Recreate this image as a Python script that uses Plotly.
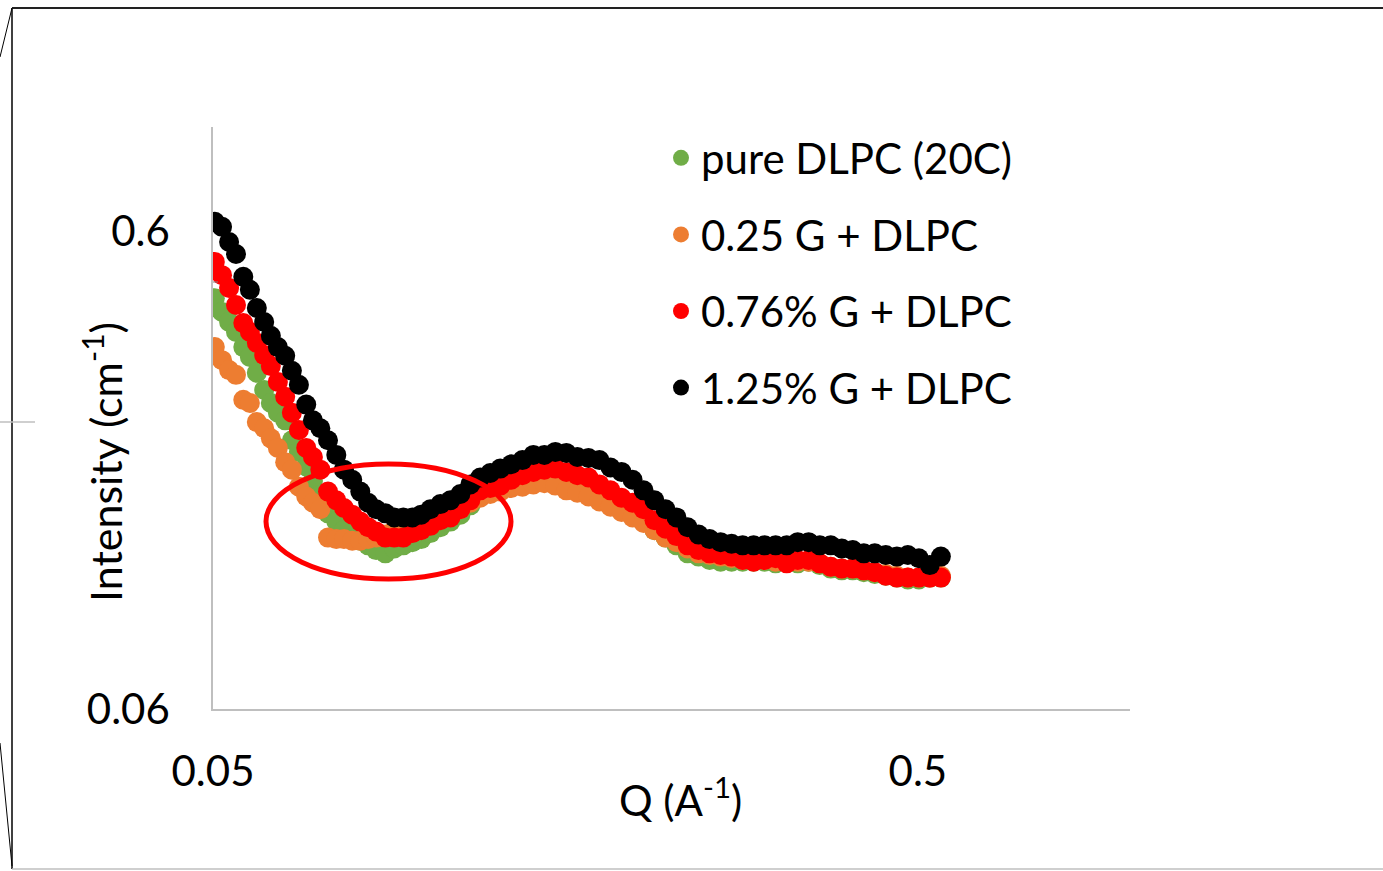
import math
import plotly.graph_objects as go

# ---------------- data ----------------
q = [0.0503, 0.0515, 0.0527, 0.0539, 0.0552, 0.0564, 0.0577, 0.0591, 0.0604, 0.0618,
     0.0633, 0.0647, 0.0662, 0.0678, 0.0693, 0.0710, 0.0728, 0.0748, 0.0767, 0.0788,
     0.0809, 0.0830, 0.0852, 0.0878, 0.0904, 0.0931, 0.0959, 0.0987, 0.1017, 0.1051,
     0.1086, 0.1122, 0.1159, 0.1197, 0.1237, 0.1278, 0.1325, 0.1374, 0.1424, 0.1476,
     0.1530, 0.1586, 0.1644, 0.1705, 0.1767, 0.1832, 0.1899, 0.1969, 0.2041, 0.2115,
     0.2193, 0.2273, 0.2357, 0.2443, 0.2532, 0.2625, 0.2721, 0.2821, 0.2924, 0.3031,
     0.3142, 0.3258, 0.3377, 0.3500, 0.3629, 0.3762, 0.3900, 0.4042, 0.4191, 0.4344,
     0.4503, 0.4669, 0.4839, 0.5017, 0.5200, 0.5391]

pure_dlpc = [0.434, 0.406, 0.387, 0.369, 0.343, 0.327, 0.303, 0.279, 0.262, 0.250,
             0.241, 0.219, 0.207, 0.193, 0.180, 0.168, 0.154, 0.148, 0.142, 0.137,
             0.135, 0.132, 0.129, 0.127, 0.130, 0.132, 0.134, 0.136, 0.140, 0.144,
             0.148, 0.153, 0.160, 0.167, 0.171, 0.173, 0.177, 0.179, 0.181, 0.183,
             0.183, 0.180, 0.177, 0.174, 0.169, 0.164, 0.160, 0.155, 0.149, 0.142,
             0.137, 0.132, 0.127, 0.125, 0.123, 0.122, 0.122, 0.122, 0.122, 0.122,
             0.121, 0.122, 0.121, 0.122, 0.120, 0.118, 0.117, 0.117, 0.116, 0.115,
             0.114, 0.113, 0.112, 0.112, 0.113, 0.113]

g025_dlpc = [0.343, 0.322, 0.307, 0.300, 0.266, 0.262, 0.239, 0.232, 0.221, 0.211,
             0.197, 0.190, 0.175, 0.167, 0.162, 0.157, 0.137, 0.136, 0.136, 0.135,
             0.135, 0.136, 0.137, 0.139, 0.142, 0.143, 0.144, 0.146, 0.148, 0.151,
             0.154, 0.157, 0.162, 0.166, 0.169, 0.171, 0.174, 0.175, 0.177, 0.178,
             0.176, 0.172, 0.170, 0.167, 0.163, 0.159, 0.155, 0.151, 0.147, 0.142,
             0.137, 0.134, 0.130, 0.127, 0.126, 0.125, 0.124, 0.123, 0.123, 0.123,
             0.122, 0.123, 0.122, 0.122, 0.121, 0.119, 0.118, 0.118, 0.117, 0.116,
             0.115, 0.114, 0.113, 0.113, 0.113, 0.114]

g076_dlpc = [0.517, 0.485, 0.456, 0.420, 0.385, 0.369, 0.350, 0.330, 0.313, 0.290,
             0.270, 0.250, 0.230, 0.211, 0.202, 0.190, 0.171, 0.164, 0.158, 0.153,
             0.148, 0.144, 0.141, 0.137, 0.137, 0.137, 0.140, 0.142, 0.145, 0.149,
             0.151, 0.157, 0.164, 0.172, 0.174, 0.176, 0.181, 0.185, 0.188, 0.190,
             0.191, 0.188, 0.185, 0.183, 0.177, 0.172, 0.166, 0.162, 0.157, 0.149,
             0.143, 0.138, 0.132, 0.129, 0.127, 0.126, 0.125, 0.123, 0.122, 0.123,
             0.124, 0.121, 0.123, 0.123, 0.121, 0.119, 0.118, 0.118, 0.117, 0.116,
             0.114, 0.113, 0.113, 0.113, 0.113, 0.113]

g125_dlpc = [0.627, 0.612, 0.569, 0.537, 0.481, 0.452, 0.414, 0.387, 0.362, 0.343,
             0.329, 0.306, 0.286, 0.260, 0.241, 0.232, 0.219, 0.204, 0.190, 0.181,
             0.171, 0.162, 0.157, 0.154, 0.151, 0.151, 0.151, 0.153, 0.157, 0.161,
             0.164, 0.169, 0.177, 0.183, 0.187, 0.191, 0.195, 0.199, 0.204, 0.204,
             0.207, 0.206, 0.202, 0.201, 0.199, 0.192, 0.188, 0.181, 0.172, 0.164,
             0.157, 0.151, 0.144, 0.139, 0.136, 0.134, 0.133, 0.132, 0.132, 0.132,
             0.132, 0.132, 0.134, 0.134, 0.132, 0.132, 0.130, 0.129, 0.127, 0.127,
             0.126, 0.125, 0.126, 0.124, 0.120, 0.125]

series_names = ["pure DLPC (20C)", "0.25 G + DLPC", "0.76% G + DLPC", "1.25% G + DLPC"]
series_values = [pure_dlpc, g025_dlpc, g076_dlpc, g125_dlpc]
series_colors = ["#70AD47", "#ED7D31", "#FF0000", "#000000"]

x_ticks = [0.05, 0.5]
x_ticklabels = ["0.05", "0.5"]
y_ticks = [0.06, 0.6]
y_ticklabels = ["0.06", "0.6"]

# ---------------- figure ----------------
W, H = 1383, 871
L, R, T, B = 213, 1130, 127, 709

fig = go.Figure()
for i, (name, vals, col) in enumerate(zip(series_names, series_values, series_colors)):
    fig.add_trace(go.Scatter(
        x=q, y=vals, mode="markers", name=name, legendgroup=f"g{i}",
        marker=dict(size=20, color=col, line=dict(width=0)),
    ))

def px(xp):
    return (xp - L) / (R - L)

def py(yp):
    return (B - yp) / (B - T)

FONT = "Lato, Carlito, 'Open Sans', sans-serif"

shapes = [
    # highlight ellipse
    dict(type="circle", xref="paper", yref="paper",
         x0=px(266), x1=px(511), y0=py(579), y1=py(464),
         line=dict(color="#FF0000", width=5)),
    # outer frame pieces
    dict(type="line", xref="paper", yref="paper", x0=px(12), x1=px(12), y0=py(8), y1=py(869),
         line=dict(color="black", width=1.5)),
    dict(type="line", xref="paper", yref="paper", x0=px(12), x1=px(1390), y0=py(8), y1=py(8),
         line=dict(color="#222222", width=2)),
    dict(type="line", xref="paper", yref="paper", x0=px(12), x1=px(1390), y0=py(869), y1=py(869),
         line=dict(color="#BFBFBF", width=1.5)),
    dict(type="line", xref="paper", yref="paper", x0=px(0), x1=px(12), y0=py(57), y1=py(8),
         line=dict(color="black", width=1)),
    dict(type="line", xref="paper", yref="paper", x0=px(0), x1=px(12), y0=py(743), y1=py(866),
         line=dict(color="black", width=1)),
    dict(type="line", xref="paper", yref="paper", x0=px(0), x1=px(35), y0=py(422), y1=py(422),
         line=dict(color="#BFBFBF", width=1.5)),
    dict(type="line", xref="paper", yref="paper", x0=px(213), x1=px(218), y0=py(282), y1=py(282),
         line=dict(color="#808080", width=1)),
]

annotations = [
    dict(text="Intensity (cm<sup>-1</sup>)", xref="paper", yref="paper",
         x=px(102), y=py(462), textangle=-90, showarrow=False,
         xanchor="center", yanchor="middle", font=dict(family=FONT, size=43, color="black")),
    dict(text="Q (A<sup>-1</sup>)", xref="paper", yref="paper",
         x=px(680), y=py(797), showarrow=False,
         xanchor="center", yanchor="middle", font=dict(family=FONT, size=42, color="black")),
]

fig.update_layout(
    width=W, height=H,
    margin=dict(l=L, r=W - R, t=T, b=H - B, pad=0),
    paper_bgcolor="white", plot_bgcolor="white",
    font=dict(family=FONT, size=42, color="black"),
    showlegend=True,
    legend=dict(x=px(661), y=py(124), xanchor="left", yanchor="top",
                font=dict(family=FONT, size=42, color="black"),
                tracegroupgap=19, bgcolor="rgba(0,0,0,0)", itemsizing="trace"),
    xaxis=dict(type="log", range=[math.log10(0.05), math.log10(1.0)],
               tickvals=x_ticks, ticktext=x_ticklabels, ticks="",
               showgrid=False, zeroline=False, showline=True,
               linecolor="#BFBFBF", linewidth=1.5, ticklabelstandoff=25,
               tickfont=dict(family=FONT, size=42, color="black")),
    yaxis=dict(type="log", range=[math.log10(0.06), math.log10(0.99)],
               tickvals=y_ticks, ticktext=y_ticklabels, ticks="",
               showgrid=False, zeroline=False, showline=True,
               linecolor="#BFBFBF", linewidth=1.5, ticklabelstandoff=33,
               tickfont=dict(family=FONT, size=42, color="black")),
    shapes=shapes,
    annotations=annotations,
)

fig.write_html("out.html", config={"displayModeBar": False})
